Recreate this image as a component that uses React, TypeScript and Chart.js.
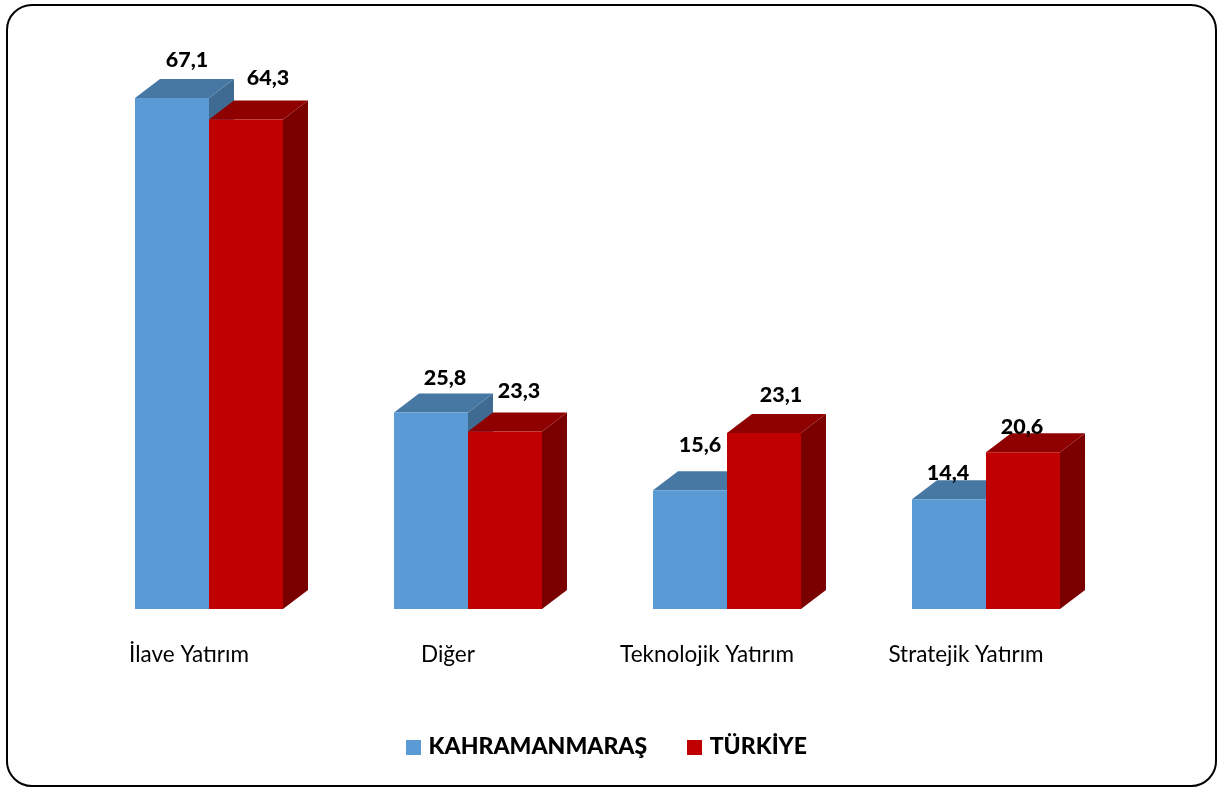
import React, { useEffect, useRef } from "react";
import { Chart, registerables } from "chart.js";

Chart.register(...registerables);

const categories = ["İlave Yatırım", "Diğer", "Teknolojik Yatırım", "Stratejik Yatırım"];
const kahramanmarasValues = [67.1, 25.8, 15.6, 14.4];
const turkiyeValues = [64.3, 23.3, 23.1, 20.6];
const seriesNames = ["KAHRAMANMARAŞ", "TÜRKİYE"];

// label nudges relative to the bar's top centre (the original labels were hand placed)
const labelNudges = [
  [[15, -38], [14, -34], [10, -45], [-1, -26]],
  [[22, -41], [14, -41], [17, -38], [-1, -25]],
];
const faceColors = ["#5B9BD5", "#C00000"];
const topColors = ["#4778A3", "#8F0000"];
const sideColors = ["#3F6B92", "#7A0000"];
const DEPTH_X = 25;
const DEPTH_Y = 19;
const FONT = "Lato, Carlito, Calibri, sans-serif";

function swatch(color: string) {
  const c = document.createElement("canvas");
  c.width = 15;
  c.height = 15;
  const g = c.getContext("2d")!;
  g.fillStyle = color;
  g.fillRect(0, 0, 15, 15);
  return c;
}

const legendShiftPlugin = {
  id: "legendShift",
  afterLayout(chart: any) {
    const l = chart.legend;
    if (!l) return;
    l.left += 11;
    l.right += 11;
    l.top += 1.5;
    l.bottom += 1.5;
  },
};

const depthPlugin = {
  id: "depth3d",
  beforeDatasetsDraw(chart: any) {
    const ctx = chart.ctx;
    ctx.save();
    chart.data.datasets.forEach((_: any, di: number) => {
      chart.getDatasetMeta(di).data.forEach((bar: any) => {
        const half = bar.width / 2;
        const l = bar.x - half;
        const r = bar.x + half;
        const t = bar.y;
        const b = bar.base;
        ctx.fillStyle = sideColors[di];
        ctx.beginPath();
        ctx.moveTo(r, t);
        ctx.lineTo(r + DEPTH_X, t - DEPTH_Y);
        ctx.lineTo(r + DEPTH_X, b - DEPTH_Y);
        ctx.lineTo(r, b);
        ctx.closePath();
        ctx.fill();
        ctx.fillStyle = topColors[di];
        ctx.beginPath();
        ctx.moveTo(l, t);
        ctx.lineTo(l + DEPTH_X, t - DEPTH_Y);
        ctx.lineTo(r + DEPTH_X, t - DEPTH_Y);
        ctx.lineTo(r, t);
        ctx.closePath();
        ctx.fill();
      });
    });
    ctx.restore();
  },
};

const valueLabelPlugin = {
  id: "valueLabels",
  afterDatasetsDraw(chart: any) {
    const ctx = chart.ctx;
    ctx.save();
    ctx.font = `900 21.5px ${FONT}`;
    ctx.fillStyle = "#000";
    ctx.textAlign = "center";
    ctx.textBaseline = "middle";
    chart.data.datasets.forEach((ds: any, di: number) => {
      chart.getDatasetMeta(di).data.forEach((bar: any, i: number) => {
        const [dx, dy] = labelNudges[di][i];
        ctx.fillText(ds.data[i].toFixed(1).replace(".", ","), bar.x + dx, bar.y + dy);
      });
    });
    ctx.restore();
  },
};

export default function App() {
  const ref = useRef<HTMLCanvasElement>(null);
  useEffect(() => {
    const chart = new Chart(ref.current!, {
      type: "bar",
      plugins: [legendShiftPlugin, depthPlugin, valueLabelPlugin],
      data: {
        labels: categories,
        datasets: [
          { label: seriesNames[0], data: kahramanmarasValues, backgroundColor: faceColors[0], categoryPercentage: 0.5714, barPercentage: 1 },
          { label: seriesNames[1], data: turkiyeValues, backgroundColor: faceColors[1], categoryPercentage: 0.5714, barPercentage: 1 },
        ],
      },
      options: {
        responsive: false,
        animation: false,
        layout: { padding: { left: 79.5, right: 101.5, top: 76, bottom: 20 } },
        plugins: {
          tooltip: { enabled: false },
          legend: {
            position: "bottom",
            labels: {
              color: "#000",
              font: { family: FONT, size: 23, weight: "900" },
              padding: 44,
              usePointStyle: true,
              pointStyleWidth: 7,
              boxHeight: 15,
              generateLabels: (c: any) =>
                c.data.datasets.map((ds: any, i: number) => ({
                  text: ds.label,
                  fontColor: "#000",
                  pointStyle: swatch(faceColors[i]),
                  datasetIndex: i,
                  hidden: false,
                  lineWidth: 0,
                })),
            },
          },
        },
        scales: {
          x: {
            grid: { display: false },
            border: { display: false },
            afterFit: (s: any) => {
              s.height = 81;
            },
            ticks: {
              color: "#000",
              font: { family: FONT, size: 22.5 },
              padding: 24,
              labelOffset: -20,
              maxRotation: 0,
              autoSkip: false,
            },
          },
          y: { display: false, min: 0, max: 70 },
        },
      },
    } as any);
    return () => chart.destroy();
  }, []);
  return (
    <div style={{ position: "fixed", left: 0, top: 0, width: 1217, height: 787, background: "#fff", overflow: "hidden" }}>
      <canvas ref={ref} width={1217} height={787} style={{ display: "block", position: "absolute", left: 0, top: 0 }} />
      <div style={{ position: "absolute", left: 6, top: 4, width: 1211, height: 783, boxSizing: "border-box", border: "2px solid #000", borderRadius: 26, pointerEvents: "none" }} />
    </div>
  );
}
